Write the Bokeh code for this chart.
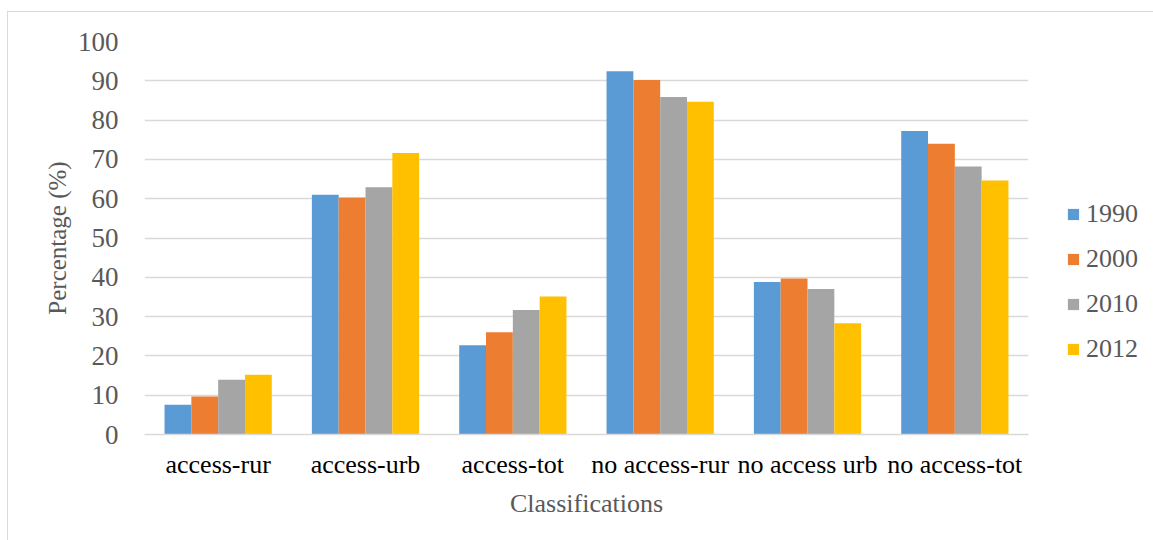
from bokeh.plotting import figure
from bokeh.models import ColumnDataSource, FactorRange, Legend, LegendItem
from bokeh.transform import dodge
from bokeh.embed import file_html
from bokeh.resources import INLINE

categories = ["access-rur", "access-urb", "access-tot",
              "no access-rur", "no access urb", "no access-tot"]
years = ["1990", "2000", "2010", "2012"]
v1990 = [7.6, 61.0, 22.7, 92.4, 38.8, 77.2]
v2000 = [9.7, 60.3, 26.0, 90.2, 39.7, 74.0]
v2010 = [13.9, 62.9, 31.7, 85.9, 37.0, 68.2]
v2012 = [15.2, 71.6, 35.1, 84.7, 28.3, 64.6]
colors = ["#5B9BD5", "#ED7D31", "#A5A5A5", "#FFC000"]

FONT = "Liberation Serif"

source = ColumnDataSource(data=dict(cat=categories, y1990=v1990, y2000=v2000,
                                    y2010=v2010, y2012=v2012))

p = figure(x_range=FactorRange(*categories, range_padding=0), y_range=(0, 100),
           frame_width=884, frame_height=393, output_backend="svg", toolbar_location=None,
           min_border_left=136, min_border_right=0, min_border_top=29,
           min_border_bottom=107)
p.margin = (11, 0, 0, 7)
p.styles = {"border-top": "1px solid #d9d9d9", "border-left": "1px solid #d9d9d9"}
p.outline_line_color = None

bw = 0.182
offsets = [-1.5 * bw, -0.5 * bw, 0.5 * bw, 1.5 * bw]
renderers = []
for yr, col, off in zip(years, colors, offsets):
    r = p.vbar(x=dodge("cat", off, range=p.x_range), top="y" + yr, width=bw,
               source=source, fill_color=col, line_color=None)
    renderers.append(r)

legend = Legend(items=[LegendItem(label=yr, renderers=[r]) for yr, r in zip(years, renderers)],
                location=(38, 70), orientation="vertical")
legend.border_line_color = None
legend.background_fill_alpha = 0
legend.label_text_font = FONT
legend.label_text_font_size = "26px"
legend.label_text_color = "#595959"
legend.glyph_width = 14
legend.glyph_height = 14
legend.label_standoff = 6
legend.spacing = 15
legend.padding = 0
legend.margin = 0
p.add_layout(legend, "right")

p.ygrid.grid_line_color = "#d9d9d9"
p.ygrid.grid_line_width = 1.5
p.xgrid.grid_line_color = None
p.yaxis.ticker = list(range(0, 101, 10))

p.yaxis.axis_line_color = None
p.yaxis.major_tick_line_color = None
p.yaxis.minor_tick_line_color = None
p.yaxis.major_label_text_font = FONT
p.yaxis.major_label_text_font_size = "27px"
p.yaxis.major_label_text_color = "#595959"
p.yaxis.major_label_standoff = 20
p.yaxis.axis_label = "Percentage (%)"
p.yaxis.axis_label_text_font = FONT
p.yaxis.axis_label_text_font_size = "25px"
p.yaxis.axis_label_text_font_style = "normal"
p.yaxis.axis_label_text_color = "#595959"
p.yaxis.axis_label_standoff = 4

p.xaxis.axis_line_color = "#d9d9d9"
p.xaxis.axis_line_width = 1.5
p.xaxis.major_tick_line_color = None
p.xaxis.minor_tick_line_color = None
p.xaxis.major_label_text_font = FONT
p.xaxis.major_label_text_font_size = "26px"
p.xaxis.major_label_text_color = "black"
p.xaxis.major_label_standoff = 9
p.xaxis.axis_label = "Classifications"
p.xaxis.axis_label_text_font = FONT
p.xaxis.axis_label_text_font_size = "26px"
p.xaxis.axis_label_text_font_style = "normal"
p.xaxis.axis_label_text_color = "#595959"
p.xaxis.axis_label_standoff = 7

open("out.html", "w").write(file_html(p, INLINE))
